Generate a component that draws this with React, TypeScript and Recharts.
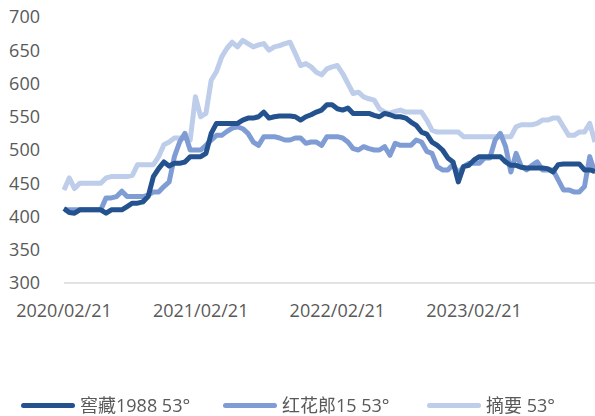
import React from 'react';
import { LineChart, Line, XAxis, YAxis } from 'recharts';

// x axis labels (one every 52 weeks)
const tickWeeks = [0, 52, 104, 156];
const tickLabels = ['2020/02/21', '2021/02/21', '2022/02/21', '2023/02/21'];
const yTicks = [300, 350, 400, 450, 500, 550, 600, 650, 700];

const seriesNames = ['窖藏1988 53°', '红花郎15 53°', '摘要 53°'];
const seriesColors = ['#24528f', '#7f9dd4', '#bdcdea'];

// biweekly prices
const jiaocang = [
  412, 406, 405, 410, 410, 410, 410, 410, 405, 410, 410, 410, 415, 420, 420, 422,
  430, 460, 472, 482, 476, 480, 480, 482, 490, 490, 490, 495, 525, 540, 540, 540,
  540, 540, 545, 548, 548, 550, 557, 548, 550, 551, 551, 551, 550, 545, 550, 553,
  557, 560, 568, 568, 562, 560, 563, 555, 555, 555, 555, 552, 550, 555, 553, 550,
  550, 548, 542, 537, 527, 524, 512, 507, 500, 488, 482, 452, 475, 477, 485, 490,
  490, 490, 490, 490, 482, 477, 477, 474, 473, 473, 473, 473, 472, 467, 478, 479,
  479, 479, 479, 470, 470, 468,
];
const honghualang = [
  410, 410, 410, 410, 410, 410, 410, 410, 428, 428, 430, 438, 430, 430, 430, 430,
  432, 437, 437, 445, 452, 490, 512, 525, 500, 500, 500, 507, 515, 522, 522, 528,
  533, 535, 532, 525, 512, 507, 520, 520, 520, 518, 515, 515, 518, 518, 510, 512,
  512, 507, 520, 520, 520, 518, 512, 502, 500, 505, 502, 500, 500, 505, 492, 510,
  507, 507, 507, 515, 512, 498, 495, 475, 470, 470, 478, 465, 475, 480, 480, 480,
  488, 488, 515, 525, 505, 467, 495, 475, 470, 477, 482, 470, 470, 470, 455, 440,
  440, 437, 437, 445, 490, 465,
];
const zhaiyao = [
  440, 458, 442, 450, 450, 450, 450, 450, 458, 460, 460, 460, 460, 462, 478, 478,
  478, 478, 490, 508, 512, 518, 518, 518, 515, 580, 550, 555, 605, 618, 640, 653,
  662, 655, 665, 660, 655, 658, 660, 650, 655, 657, 660, 662, 645, 627, 630, 625,
  617, 613, 622, 625, 627, 615, 600, 585, 587, 580, 577, 575, 562, 557, 555, 558,
  560, 557, 557, 557, 557, 545, 530, 527, 527, 527, 527, 527, 520, 520, 520, 520,
  520, 520, 520, 520, 520, 520, 535, 538, 538, 538, 540, 545, 545, 548, 548, 535,
  522, 522, 527, 527, 540, 512,
];

const rows = jiaocang.map((v, i) => ({
  week: i * 2,
  jiaocang: v,
  honghualang: honghualang[i],
  zhaiyao: zhaiyao[i],
}));

const legendLefts = [21, 223, 427];

const tickStyle = { fontSize: 18, fill: '#595959' };

export default function App() {
  return (
    <div style={{ position: 'fixed', left: 0, top: 0, width: 595, height: 416, background: '#fff', fontFamily: "'Open Sans', 'Noto Sans CJK SC', sans-serif" }}>
      <LineChart width={595} height={416} data={rows} margin={{ top: 17, right: 0, bottom: 0, left: 0 }}>
        <XAxis
          dataKey="week"
          type="number"
          domain={[0, 202]}
          ticks={tickWeeks}
          tickFormatter={(w: number) => tickLabels[tickWeeks.indexOf(w)]}
          tick={tickStyle}
          tickLine={false}
          tickSize={0}
          tickMargin={21}
          axisLine={{ stroke: '#d9d9d9', strokeWidth: 1.5 }}
          height={133}
          interval={0}
        />
        <YAxis
          domain={[300, 700]}
          ticks={yTicks}
          tick={tickStyle}
          tickLine={false}
          axisLine={false}
          tickSize={0}
          tickMargin={24}
          width={64}
          interval={0}
        />
        <Line dataKey="zhaiyao" name={seriesNames[2]} stroke={seriesColors[2]} strokeWidth={5} dot={false} strokeLinejoin="round" isAnimationActive={false} />
        <Line dataKey="honghualang" name={seriesNames[1]} stroke={seriesColors[1]} strokeWidth={5} dot={false} strokeLinejoin="round" isAnimationActive={false} />
        <Line dataKey="jiaocang" name={seriesNames[0]} stroke={seriesColors[0]} strokeWidth={5} dot={false} strokeLinejoin="round" isAnimationActive={false} />
      </LineChart>
      {seriesNames.map((name, i) => (
        <div
          key={name}
          style={{ position: 'absolute', left: legendLefts[i], top: 394, height: 22, display: 'flex', alignItems: 'center' }}
        >
          <span style={{ display: 'inline-block', width: 54, height: 5, borderRadius: 3, background: seriesColors[i] }} />
          <span style={{ marginLeft: 5, fontSize: 18, lineHeight: '22px', color: '#595959', whiteSpace: 'nowrap' }}>{name}</span>
        </div>
      ))}
    </div>
  );
}
